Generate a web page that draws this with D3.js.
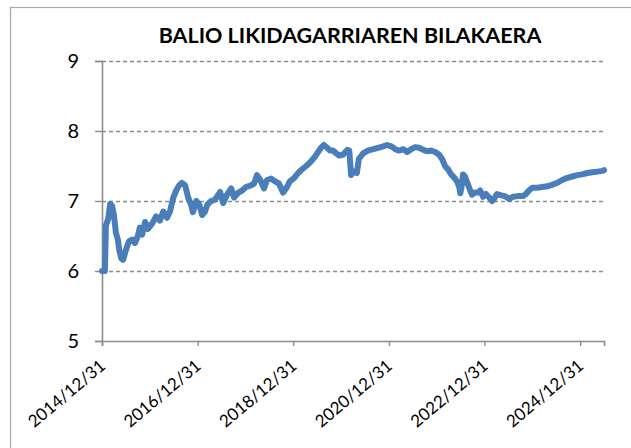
<!DOCTYPE html>
<html>
<head>
<meta charset="utf-8">
<script src="https://cdn.jsdelivr.net/npm/d3@7"></script>
<style>
  body { margin: 0; background: #fff; }
  svg { display: block; }
</style>
</head>
<body>
<svg id="chart" width="631" height="448"></svg>
<script>
// fund net value
var dates = [
  "2014-12-31","2015-01-22","2015-01-30","2015-02-17","2015-03-03","2015-03-18","2015-04-01","2015-04-16",
  "2015-05-01","2015-05-12","2015-05-27","2015-06-10","2015-07-02","2015-07-24","2015-08-18","2015-09-09",
  "2015-10-01","2015-10-16","2015-11-03","2015-11-25","2015-12-17","2016-01-19","2016-02-17","2016-03-17",
  "2016-04-12","2016-05-11","2016-06-02","2016-06-28","2016-07-20","2016-08-10","2016-09-01","2016-09-27",
  "2016-10-19","2016-11-10","2016-11-25","2016-12-20","2017-01-12","2017-02-03","2017-02-25","2017-03-15",
  "2017-04-13","2017-05-12","2017-06-21","2017-07-13","2017-08-15","2017-09-13","2017-10-05","2017-11-07",
  "2017-12-06","2018-01-04","2018-02-06","2018-03-07","2018-03-29","2018-04-23","2018-05-22","2018-06-13",
  "2018-07-16","2018-08-14","2018-09-12","2018-10-15","2018-11-13","2018-12-05","2019-01-08","2019-02-06",
  "2019-03-07","2019-04-09","2019-05-08","2019-06-10","2019-07-09","2019-07-31","2019-08-22","2019-09-17",
  "2019-10-09","2019-10-31","2019-11-25","2019-12-17","2020-01-15","2020-02-17","2020-03-03","2020-03-17",
  "2020-04-08","2020-04-30","2020-05-15","2020-06-17","2020-07-23","2020-09-02","2020-10-08","2020-11-17",
  "2020-12-16","2021-01-19","2021-02-17","2021-03-18","2021-04-20","2021-05-19","2021-06-18","2021-07-20",
  "2021-08-18","2021-09-20","2021-10-19","2021-11-17","2021-12-20","2022-01-19","2022-02-10","2022-03-07",
  "2022-03-29","2022-04-20","2022-05-16","2022-06-07","2022-06-21","2022-06-29","2022-07-09","2022-07-20",
  "2022-08-04","2022-08-22","2022-09-13","2022-09-27","2022-10-19","2022-11-13","2022-11-28","2022-12-20",
  "2023-01-11","2023-02-06","2023-02-28","2023-03-14","2023-04-05","2023-05-08","2023-06-06","2023-07-05",
  "2023-08-07","2023-09-12","2023-10-22","2023-11-13","2023-12-05","2023-12-31","2024-02-06","2024-03-17",
  "2024-04-23","2024-05-30","2024-07-09","2024-08-15","2024-09-24","2024-10-31","2024-12-09","2025-01-15",
  "2025-02-24","2025-04-02","2025-05-12","2025-06-18","2025-07-01"
];
var values = [
  6.00,6.00,6.65,6.75,6.96,6.93,6.80,6.55,
  6.45,6.30,6.18,6.16,6.30,6.42,6.45,6.40,
  6.50,6.62,6.52,6.70,6.60,6.68,6.78,6.72,
  6.85,6.76,6.85,7.05,7.15,7.22,7.26,7.22,
  7.05,6.95,6.84,7.00,6.95,6.80,6.85,6.95,
  7.00,7.02,7.13,6.97,7.10,7.18,7.05,7.12,
  7.15,7.20,7.22,7.25,7.37,7.30,7.18,7.30,
  7.32,7.28,7.25,7.12,7.20,7.28,7.33,7.40,
  7.45,7.50,7.55,7.62,7.70,7.76,7.80,7.76,
  7.72,7.72,7.68,7.65,7.66,7.73,7.72,7.37,
  7.42,7.40,7.60,7.68,7.72,7.74,7.76,7.78,
  7.80,7.78,7.74,7.72,7.74,7.70,7.74,7.77,
  7.76,7.73,7.71,7.72,7.70,7.66,7.60,7.49,
  7.45,7.38,7.33,7.27,7.20,7.11,7.20,7.38,
  7.35,7.26,7.15,7.09,7.12,7.12,7.15,7.06,
  7.10,7.05,7.00,7.03,7.10,7.08,7.07,7.03,
  7.06,7.07,7.07,7.10,7.15,7.19,7.19,7.20,
  7.21,7.23,7.26,7.30,7.33,7.35,7.37,7.38,
  7.40,7.41,7.42,7.43,7.44
];
var xTicks = ["2014-12-31","2016-12-31","2018-12-31","2020-12-31","2022-12-31","2024-12-31"];
var yTicks = [5, 6, 7, 8, 9];
var title = "BALIO LIKIDAGARRIAREN BILAKAERA";

var parse = d3.timeParse("%Y-%m-%d"),
  fmt = d3.timeFormat("%Y/%m/%d");

var data = dates.map(function(d, i) { return {date: parse(d), value: values[i]}; });

var svg = d3.select("#chart"),
  margin = {left: 102, right: 27, top: 61, bottom: 107},
  width = 631 - margin.left - margin.right,
  height = 448 - margin.top - margin.bottom;

// chart frame (runs off the right and bottom edges in the original)
svg.append("rect")
  .attr("x", 10.5).attr("y", 7.5)
  .attr("width", 640).attr("height", 460)
  .attr("fill", "none")
  .attr("stroke", "#a6a6a6")
  .attr("stroke-width", 1.2);

svg.append("text")
  .attr("x", 350)
  .attr("y", 43)
  .attr("text-anchor", "middle")
  .attr("font-family", "Lato, 'Open Sans', sans-serif")
  .attr("font-weight", "bold")
  .attr("font-size", 21.5)
  .attr("fill", "#000")
  .text(title);

var g = svg.append("g").attr("transform", "translate(" + margin.left + "," + margin.top + ")");

var x = d3.scaleTime()
  .domain([parse("2014-12-31"), parse("2025-07-01")])
  .range([0, width]);

var y = d3.scaleLinear()
  .domain([5, 9])
  .range([height, 0]);

// dashed gridlines
g.append("g")
  .selectAll("line")
  .data(yTicks.slice(1))
  .enter().append("line")
  .attr("x1", 0).attr("x2", width)
  .attr("y1", function(d) { return Math.round(y(d)) + 0.5; })
  .attr("y2", function(d) { return Math.round(y(d)) + 0.5; })
  .attr("stroke", "#8c8c8c")
  .attr("stroke-width", 1.3)
  .attr("stroke-dasharray", "4,3");

var yAxis = g.append("g")
  .call(d3.axisLeft(y).tickValues(yTicks).tickSize(7).tickPadding(16).tickFormat(d3.format("d")));

var xAxis = g.append("g")
  .attr("transform", "translate(0," + height + ")")
  .call(d3.axisBottom(x).tickValues(xTicks.map(parse)).tickSize(5).tickFormat(fmt));

[yAxis, xAxis].forEach(function(a) {
  a.select(".domain").attr("stroke", "#8c8c8c").attr("stroke-width", 1.6);
  a.selectAll(".tick line").attr("stroke", "#8c8c8c").attr("stroke-width", 1.4);
  a.selectAll("text").attr("fill", "#000").attr("font-family", "Lato, 'Open Sans', sans-serif");
});

yAxis.selectAll("text").attr("font-size", 20);

xAxis.selectAll("text")
  .attr("font-size", 17)
  .attr("text-anchor", "end")
  .attr("dy", "0.35em")
  .attr("transform", "translate(-5,16) rotate(-40)");

var line = d3.line()
  .x(function(d) { return x(d.date); })
  .y(function(d) { return y(d.value); });

g.append("path")
  .datum(data)
  .attr("d", line)
  .attr("fill", "none")
  .attr("stroke", "#4a7ebb")
  .attr("stroke-width", 6)
  .attr("stroke-linejoin", "round")
  .attr("stroke-linecap", "round");
</script>
</body>
</html>
